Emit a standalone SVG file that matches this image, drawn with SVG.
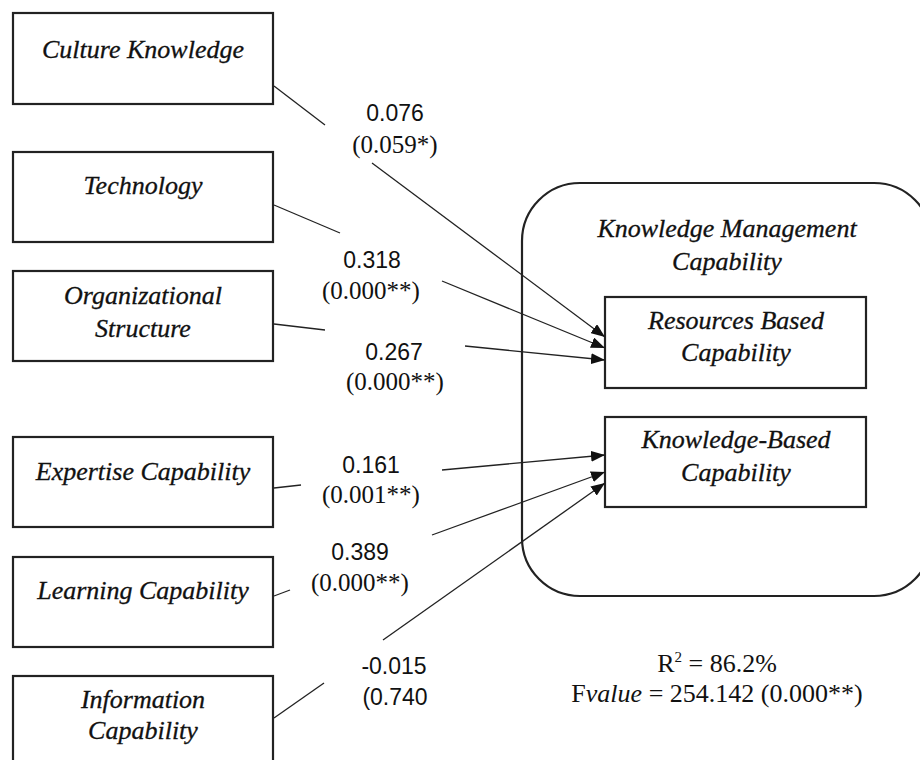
<svg xmlns="http://www.w3.org/2000/svg" width="920" height="760" viewBox="0 0 920 760">
<style>
.box{fill:#fff;stroke:#222;stroke-width:2.2}
.frame{fill:none;stroke:#222;stroke-width:2.2}
.lbl{font-family:"Liberation Serif","Times New Roman",serif;font-style:italic;font-size:26px;fill:#111;stroke:#111;stroke-width:0.3;text-anchor:middle}
.num{font-family:"Liberation Sans",Arial,sans-serif;font-size:23px;fill:#111;text-anchor:middle}
.p{font-family:"Liberation Serif","Times New Roman",serif;font-size:25px;fill:#111;text-anchor:middle}
.stat{font-family:"Liberation Serif","Times New Roman",serif;font-size:26px;fill:#111;text-anchor:middle}
.ln{stroke:#222;stroke-width:1.3;fill:none}
</style>
<defs>
<marker id="ah" markerUnits="userSpaceOnUse" markerWidth="15" markerHeight="11" refX="14" refY="5.5" orient="auto">
<path d="M0,0 L14,5.5 L0,11 z" fill="#111"/>
</marker>
</defs>
<rect width="920" height="760" fill="#fff"/>

<g id="culture"><rect class="box" x="13" y="13" width="260" height="91"/><text class="lbl" x="143" y="58">Culture Knowledge</text></g>
<g id="technology"><rect class="box" x="13" y="152" width="260" height="90"/><text class="lbl" x="143" y="194">Technology</text></g>
<g id="organizational"><rect class="box" x="13" y="271" width="260" height="90"/><text class="lbl" x="143" y="304">Organizational</text><text class="lbl" x="143" y="337">Structure</text></g>
<g id="expertise"><rect class="box" x="13" y="437" width="260" height="90"/><text class="lbl" x="143" y="480">Expertise Capability</text></g>
<g id="learning"><rect class="box" x="13" y="557" width="260" height="90"/><text class="lbl" x="143" y="599">Learning Capability</text></g>
<g id="information"><rect class="box" x="13" y="676" width="260" height="100"/><text class="lbl" x="143" y="708">Information</text><text class="lbl" x="143" y="739">Capability</text></g>

<g id="kmc"><rect class="frame" x="522" y="183" width="410" height="413" rx="58" ry="58"/><text class="lbl" x="727" y="237">Knowledge Management</text><text class="lbl" x="727" y="270">Capability</text></g>
<g id="resources"><rect class="box" x="605" y="297" width="261" height="91"/><text class="lbl" x="736" y="329">Resources Based</text><text class="lbl" x="736" y="361">Capability</text></g>
<g id="knowledge"><rect class="box" x="605" y="417" width="261" height="90"/><text class="lbl" x="736" y="448">Knowledge-Based</text><text class="lbl" x="736" y="481">Capability</text></g>

<g id="connectors">
<line class="ln" x1="274" y1="86" x2="325" y2="125"/>
<line class="ln" x1="372" y1="163" x2="605" y2="337" marker-end="url(#ah)"/>
<line class="ln" x1="274" y1="205" x2="340" y2="233"/>
<line class="ln" x1="442" y1="281" x2="605" y2="348" marker-end="url(#ah)"/>
<line class="ln" x1="274" y1="324" x2="325" y2="330"/>
<line class="ln" x1="465" y1="346" x2="605" y2="360" marker-end="url(#ah)"/>
<line class="ln" x1="274" y1="488" x2="301" y2="485"/>
<line class="ln" x1="442" y1="470" x2="605" y2="455" marker-end="url(#ah)"/>
<line class="ln" x1="274" y1="596" x2="290" y2="590"/>
<line class="ln" x1="432" y1="535" x2="605" y2="472" marker-end="url(#ah)"/>
<line class="ln" x1="274" y1="718" x2="324" y2="683"/>
<line class="ln" x1="383" y1="640" x2="605" y2="483" marker-end="url(#ah)"/>
</g>

<g id="labels">
<text class="num" x="395" y="121">0.076</text>
<text class="p" x="395" y="153">(0.059*)</text>
<text class="num" x="372" y="268">0.318</text>
<text class="p" x="371" y="299">(0.000**)</text>
<text class="num" x="394" y="360">0.267</text>
<text class="p" x="395" y="390">(0.000**)</text>
<text class="num" x="371" y="473">0.161</text>
<text class="p" x="371" y="503">(0.001**)</text>
<text class="num" x="360" y="560">0.389</text>
<text class="p" x="360" y="591">(0.000**)</text>
<text class="num" x="394" y="674">-0.015</text>
<text class="num" x="395" y="705">(0.740</text>
</g>

<g id="stats">
<text class="stat" x="717" y="672">R<tspan font-size="15" dy="-10">2</tspan><tspan dy="10"> = 86.2%</tspan></text>
<text class="stat" x="717" y="702">F<tspan font-style="italic">value</tspan> = 254.142 (0.000**)</text>
</g>
</svg>
